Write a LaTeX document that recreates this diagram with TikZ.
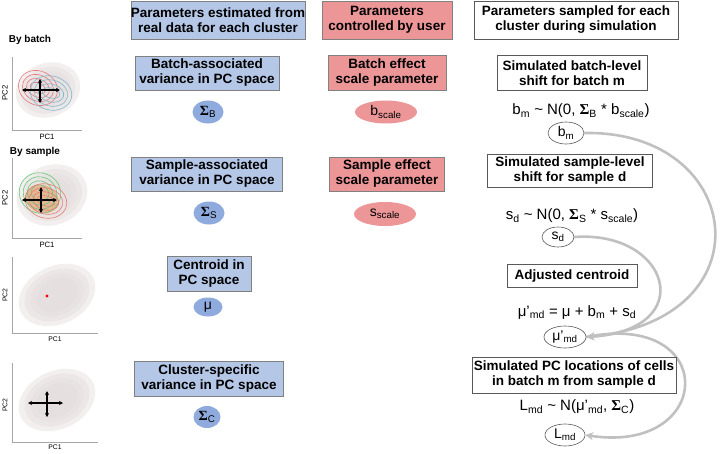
\documentclass[tikz,border=0pt]{standalone}
\usepackage{fontspec}
\setmainfont{Liberation Sans}
\newfontfamily\sigfont{Liberation Serif}
\usetikzlibrary{arrows.meta,shapes.geometric,backgrounds}
\definecolor{estfill}{HTML}{B4C7E7}
\definecolor{estoval}{HTML}{8FAADC}
\definecolor{usrfill}{HTML}{EC9698}
\definecolor{boxline}{HTML}{808080}
\definecolor{flowgray}{HTML}{C0C0C0}
\definecolor{cloudc}{HTML}{E4DCDC}
\definecolor{contred}{HTML}{E8787C}
\definecolor{contblue}{HTML}{80B8CC}
\definecolor{contgreen}{HTML}{66C878}
\definecolor{contorange}{HTML}{E0904A}
\newcommand{\Sig}[1]{{\sigfont\bfseries Σ}\textsubscript{#1}}
\newcommand{\Sub}[1]{\textsubscript{#1}}
\begin{document}
\begin{tikzpicture}[x=1pt,y=-1pt,
    boxtext/.style={align=center,inner sep=0pt,font=\fontsize{13.5}{15}\selectfont\bfseries},
    estbox/.style={boxtext,draw=boxline,fill=estfill,line width=0.8pt},
    usrbox/.style={boxtext,draw=boxline,fill=usrfill,line width=0.8pt},
    simbox/.style={boxtext,draw=black!65,fill=white,line width=0.8pt},
    estpar/.style={ellipse,fill=estoval,inner sep=0pt,font=\fontsize{14}{14}\selectfont},
    usrpar/.style={ellipse,fill=usrfill,inner sep=0pt,font=\fontsize{14}{14}\selectfont},
    simpar/.style={ellipse,draw=black!65,fill=white,line width=0.6pt,inner sep=0pt,font=\fontsize{14}{14}\selectfont},
    formula/.style={inner sep=0pt,font=\fontsize{15}{15}\selectfont},
    flow/.style={draw=flowgray,line width=2.6pt,-{Stealth[length=8pt,width=8pt]}},
    axisln/.style={draw=black!35,line width=0.8pt},
    cloud/.style={fill=cloudc,opacity=0.45},
    crossarr/.style={line width=1.4pt,{Stealth[length=4pt,width=4pt]}-{Stealth[length=4pt,width=4pt]}},
    sidelab/.style={inner sep=0pt,font=\fontsize{10}{10}\selectfont\bfseries},
    pclab/.style={inner sep=0pt,font=\fontsize{7.7}{8}\selectfont}]
  \useasboundingbox (0,0) rectangle (726,453);
  \node[estbox,minimum width=162pt,minimum height=38pt] (hdest) at (218,20) {Parameters estimated from\\real data for each cluster};
  \node[usrbox,minimum width=130pt,minimum height=38pt] (hdusr) at (387,20) {Parameters\\controlled by user};
  \node[simbox,minimum width=204pt,minimum height=38pt] (hdsim) at (576,20) {Parameters sampled for each\\cluster during simulation};

  \node[estbox,minimum width=144pt,minimum height=34pt] (batchvar) at (207,73) {Batch-associated\\variance in PC space};
  \node[estpar,minimum width=31pt,minimum height=23pt] (sigb) at (208,112) {\Sig{B}};
  \node[usrbox,minimum width=118pt,minimum height=35pt] (batchscl) at (387,73) {Batch effect\\scale parameter};
  \node[usrpar,minimum width=62pt,minimum height=23pt] (bscale) at (386,112) {b\Sub{scale}};
  \node[simbox,minimum width=150pt,minimum height=35pt] (batchsim) at (572,73) {Simulated batch-level\\shift for batch m};
  \node[formula] (bform) at (581,111) {b\Sub{m} \textasciitilde{} N(0, \Sig{B} * b\Sub{scale})};
  \node[simpar,minimum width=36pt,minimum height=22pt] (bm) at (566,133) {b\Sub{m}};

  \node[estbox,minimum width=151pt,minimum height=34pt] (sampvar) at (207,174) {Sample-associated\\variance in PC space};
  \node[estpar,minimum width=31pt,minimum height=23pt] (sigs) at (209,213) {\Sig{S}};
  \node[usrbox,minimum width=115pt,minimum height=34pt] (sampscl) at (387,174) {Sample effect\\scale parameter};
  \node[usrpar,minimum width=62pt,minimum height=24pt] (sscale) at (385,214) {s\Sub{scale}};
  \node[simbox,minimum width=165pt,minimum height=33pt] (sampsim) at (570,171) {Simulated sample-level\\shift for sample d};
  \node[formula] (sform) at (572,216) {s\Sub{d} \textasciitilde{} N(0, \Sig{S} * s\Sub{scale})};
  \node[simpar,minimum width=32pt,minimum height=20pt] (sd) at (558,237) {s\Sub{d}};

  \node[estbox,minimum width=84pt,minimum height=35pt] (centvar) at (209,274) {Centroid in\\PC space};
  \node[estpar,minimum width=29pt,minimum height=19pt] (mu) at (208,307) {μ};
  \node[simbox,minimum width=130pt,minimum height=23pt] (centsim) at (572,276) {Adjusted centroid};
  \node[formula] (muform) at (577,312) {μ'\Sub{md} = μ + b\Sub{m} + s\Sub{d}};
  \node[simpar,minimum width=42pt,minimum height=22pt] (mumd) at (565,337) {μ'\Sub{md}};

  \node[estbox,minimum width=149pt,minimum height=35pt] (clusvar) at (209,379) {Cluster-specific\\variance in PC space};
  \node[estpar,minimum width=27pt,minimum height=22pt] (sigc) at (207,417) {\Sig{C}};
  \node[simbox,minimum width=204pt,minimum height=36pt] (locsim) at (574,375) {Simulated PC locations of cells\\in batch m from sample d};
  \node[formula] (lform) at (577,407) {L\Sub{md} \textasciitilde{} N(μ'\Sub{md}, \Sig{C})};
  \node[simpar,minimum width=40pt,minimum height=22pt] (lmd) at (565,435) {L\Sub{md}};

  \begin{pgfonlayer}{background}
    \draw[flow] (bm.east) .. controls (745,130) and (770,320) .. (mumd.east);
    \draw[flow] (sd.east) .. controls (670,230) and (700,330) .. (mumd.east);
    \draw[flow] (mumd.east) .. controls (720,310) and (715,455) .. (lmd.east);
  \end{pgfonlayer}

  \node[sidelab] (bybatch) at (30,40) {By batch};
  \node[sidelab] (bysample) at (35,152) {By sample};

  \foreach \r in {1,0.85,0.7,0.55}
    \fill[cloud,rotate around={20:(48,90)}] (48,90) ellipse [x radius=33*\r, y radius=27*\r];
  \foreach \r in {5,9,13,17}
    \draw[contred,line width=0.6pt,rotate around={-25:(38,88)}] (38,88) ellipse [x radius=\r+3, y radius=\r];
  \foreach \r in {5,9,13,17}
    \draw[contblue,line width=0.6pt,rotate around={-15:(51,93)}] (51,93) ellipse [x radius=\r+4, y radius=\r];
  \draw[axisln] (12,57) -- (12,130) -- (82,130);
  \node[pclab,rotate=90] (pc2a) at (5,93) {PC2};
  \node[pclab] (pc1a) at (47,137) {PC1};
  \draw[crossarr] (22,90) -- (60,90);
  \draw[crossarr] (40,79) -- (40,103);

  \foreach \r in {1,0.85,0.7,0.55}
    \fill[cloud,rotate around={20:(52,195)}] (52,195) ellipse [x radius=36*\r, y radius=30*\r];
  \fill[contorange,opacity=0.5,rotate around={-20:(42,199)}] (42,199) ellipse [x radius=17, y radius=14];
  \foreach \r in {6,10,14,18}
    \draw[contgreen,line width=0.6pt,rotate around={-30:(40,193)}] (40,193) ellipse [x radius=\r+3, y radius=\r+2];
  \foreach \r in {5,9,13,17}
    \draw[contred!80!contorange,line width=0.6pt,rotate around={-15:(46,201)}] (46,201) ellipse [x radius=\r+4, y radius=\r];
  \draw[axisln] (12,158) -- (12,238) -- (82,238);
  \node[pclab,rotate=90] (pc2b) at (5,198) {PC2};
  \node[pclab] (pc1b) at (47,245) {PC1};
  \draw[crossarr] (22,200) -- (57,200);
  \draw[crossarr] (41,187) -- (41,213);

  \foreach \r in {1,0.85,0.7,0.55}
    \fill[cloud,rotate around={25:(57,295)}] (57,295) ellipse [x radius=40*\r, y radius=29*\r];
  \fill[red] (47,296) circle (1.6pt);
  \draw[axisln] (12,257) -- (12,333) -- (98,333);
  \node[pclab,font=\fontsize{6.8}{7}\selectfont,rotate=90] (pc2c) at (5,295) {PC2};
  \node[pclab,font=\fontsize{6.8}{7}\selectfont] (pc1c) at (55,339) {PC1};

  \foreach \r in {1,0.85,0.7,0.55}
    \fill[cloud,rotate around={25:(57,400)}] (57,400) ellipse [x radius=40*\r, y radius=29*\r];
  \fill[red] (47,403) circle (1.4pt);
  \draw[axisln] (12,363) -- (12,442) -- (98,442);
  \node[pclab,font=\fontsize{6.8}{7}\selectfont,rotate=90] (pc2d) at (5,405) {PC2};
  \node[pclab,font=\fontsize{6.8}{7}\selectfont] (pc1d) at (55,447) {PC1};
  \draw[crossarr] (28,403) -- (63,403);
  \draw[crossarr] (47,391) -- (47,417);
\end{tikzpicture}
\end{document}
